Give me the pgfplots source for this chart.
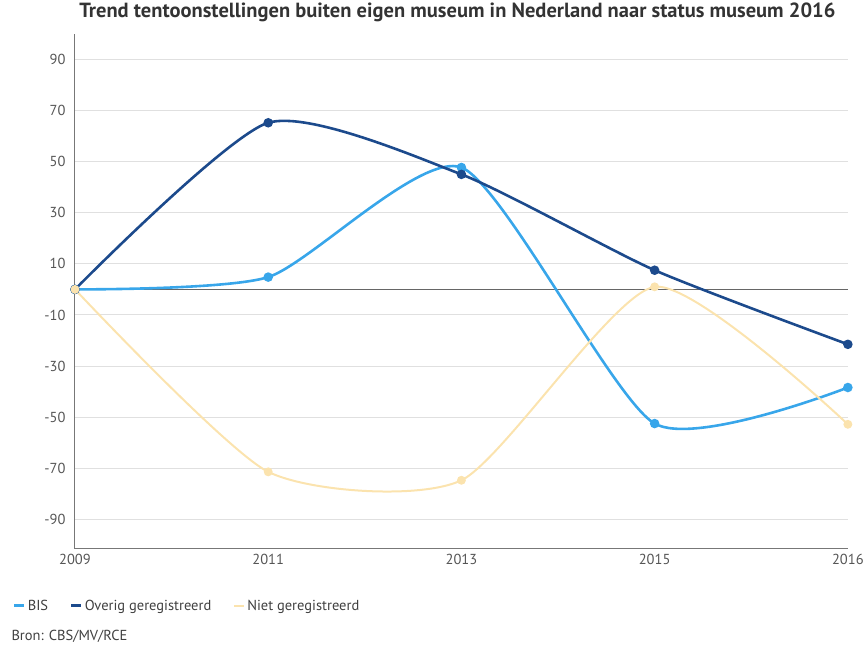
\documentclass[border=0pt]{standalone}
\usepackage{fontspec}
\setmainfont{PT Sans}
\usepackage{pgfplots}
\pgfplotsset{compat=1.18}
\definecolor{bis}{HTML}{38A6EA}
\definecolor{overig}{HTML}{1C4A8C}
\definecolor{niet}{HTML}{FBE3AE}
\definecolor{txt}{HTML}{555555}
\begin{document}
\begin{tikzpicture}[x=1pt,y=1pt]
\begin{axis}[
  at={(0pt,0pt)}, anchor=south west,
  scale only axis, width=773pt, height=515pt,
  xmin=0, xmax=4, ymin=-101.5, ymax=100,
  axis x line=bottom, axis y line=left,
  axis line style={draw=txt!80, line width=1pt, -},
  xtick={0,1,2,3,4},
  xticklabels={2009,2011,2013,2015,2016},
  ytick={-90,-70,-50,-30,-10,10,30,50,70,90},
  yticklabels={-90,-70,-50,-30,-10,10,30,50,70,90},
  major tick length=0pt,
  ymajorgrids, grid style={draw=black!12, line width=1pt},
  extra y ticks={0}, extra y tick labels={},
  extra y tick style={grid style={draw=black!60, line width=1pt}},
  tick label style={font=\fontsize{14.5}{16}\selectfont, text=txt},
  yticklabel style={xshift=-6pt},
  xticklabel style={yshift=-2pt},
  clip=false,
  title={\bfseries Trend tentoonstellingen buiten eigen museum in Nederland naar status museum 2016},
  title style={font=\fontsize{20.5}{24}\selectfont, text=black!80, at={(0.5,1)}, anchor=south, yshift=2pt, xshift=-4pt},
  legend style={at={(-65pt,-57pt)}, anchor=west, draw=none, fill=none, legend columns=3,
    font=\fontsize{14.5}{16}\selectfont, text=black!75,
    /tikz/every even column/.append style={column sep=20pt}},
  legend cell align=left,
  every axis plot/.append style={smooth, tension=0.38, mark=*, mark size=3.4pt,
    mark options={draw=white, line width=1pt, solid}},
]
\addplot[draw=bis, line width=2.6pt, mark options={fill=bis},
  legend image code/.code={\draw[bis, line width=2.6pt] (0pt,0pt) -- (10pt,0pt);}]
  coordinates {(0,0) (1,4.8) (2,47.7) (3,-52.5) (4,-38.4)};
\addlegendentry{BIS}
\addplot[draw=overig, line width=2.6pt, mark options={fill=overig},
  legend image code/.code={\draw[overig, line width=2.6pt] (0pt,0pt) -- (10pt,0pt);}]
  coordinates {(0,0) (1,65.2) (2,45.0) (3,7.5) (4,-21.5)};
\addlegendentry{Overig geregistreerd}
\addplot[draw=niet, line width=2pt, mark options={fill=niet},
  legend image code/.code={\draw[niet, line width=2pt] (0pt,0pt) -- (10pt,0pt);}]
  coordinates {(0,0) (1,-71.4) (2,-74.7) (3,1.0) (4,-52.8)};
\addlegendentry{Niet geregistreerd}
\end{axis}
\node[anchor=west, font=\fontsize{14.5}{16}\selectfont, text=black!75] at (-67,-88) {Bron: CBS/MV/RCE};
\path[use as bounding box] (-75,-100) rectangle (792,548);
\end{tikzpicture}
\end{document}
